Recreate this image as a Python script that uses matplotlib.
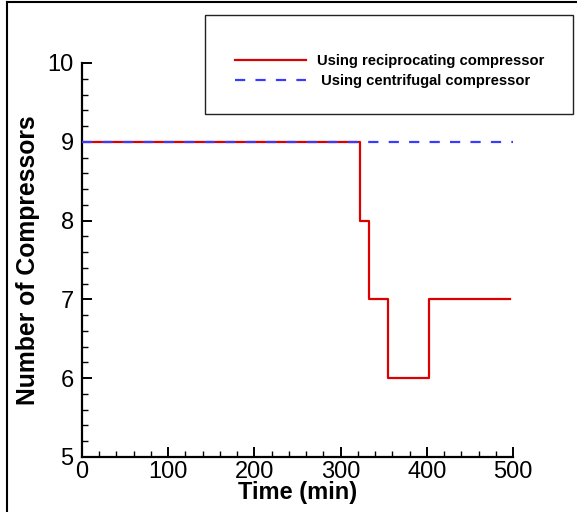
import matplotlib
matplotlib.use("Agg")
import matplotlib.pyplot as plt
from matplotlib.lines import Line2D
from matplotlib.patches import Rectangle
from matplotlib.ticker import MultipleLocator

plt.rcParams['font.family'] = ['Liberation Sans', 'DejaVu Sans']

# Data
recip_time = [0, 322, 322, 333, 333, 355, 355, 403, 403, 497]
recip_count = [9, 9, 8, 8, 7, 7, 6, 6, 7, 7]
centri_time = [0, 500]
centri_count = [9, 9]
recip_label = "Using reciprocating compressor"
centri_label = " Using centrifugal compressor"
xlabel = "Time (min)"
ylabel = "Number of Compressors"

W, H = 577, 512
fig = plt.figure(figsize=(W / 100, H / 100), dpi=100)
ax = fig.add_axes([82 / W, 1 - 457 / H, (513 - 82) / W, (457 - 63) / H])

l1, = ax.plot(recip_time, recip_count, color='#dd0000', lw=1.6, zorder=3,
              label=recip_label)
l2, = ax.plot(centri_time, centri_count, color='#3b3bff', lw=1.6, zorder=4,
              dashes=(4.6, 4.6), label=centri_label)

ax.set_xlim(0, 500)
ax.set_ylim(5, 10)
ax.xaxis.set_major_locator(MultipleLocator(100))
ax.xaxis.set_minor_locator(MultipleLocator(20))
ax.yaxis.set_major_locator(MultipleLocator(1))
ax.yaxis.set_minor_locator(MultipleLocator(0.2))
for s in ['top', 'right']:
    ax.spines[s].set_visible(False)
for s in ['left', 'bottom']:
    ax.spines[s].set_linewidth(1.6)
ax.tick_params(which='major', direction='in', length=7.5, width=1.4,
               labelsize=17, pad=4)
ax.tick_params(which='minor', direction='in', length=4, width=1.0)
ax.tick_params(axis='x', which='major', pad=3)
ax.tick_params(axis='y', which='major', pad=6)
ax.set_xlabel(xlabel, fontsize=17, fontweight='bold', labelpad=-1.5)
ax.set_ylabel(ylabel, fontsize=17.8, fontweight='bold', labelpad=5)

# Legend frame and entries
fig.patches.append(Rectangle((205 / W, 1 - 114 / H), (573 - 205) / W, (114 - 15) / H,
                             transform=fig.transFigure, fill=False,
                             edgecolor='#222222', lw=1.0))
leg = fig.legend(handles=[l1, l2], loc='upper left',
                 bbox_to_anchor=(235 / W, 1 - 54.5 / H),
                 bbox_transform=fig.transFigure, frameon=False,
                 prop={'weight': 'bold', 'size': 10.6}, handlelength=4.85,
                 handletextpad=0.75, labelspacing=0.37, borderpad=0,
                 borderaxespad=0)

# Figure border (left and top)
fig.add_artist(Line2D([7 / W, 7 / W], [0, 1 - 2 / H], transform=fig.transFigure,
                      color='black', lw=1.5))
fig.add_artist(Line2D([7 / W, 1], [1 - 2 / H, 1 - 2 / H], transform=fig.transFigure,
                      color='black', lw=1.5))

fig.savefig('out.png', dpi=100)
